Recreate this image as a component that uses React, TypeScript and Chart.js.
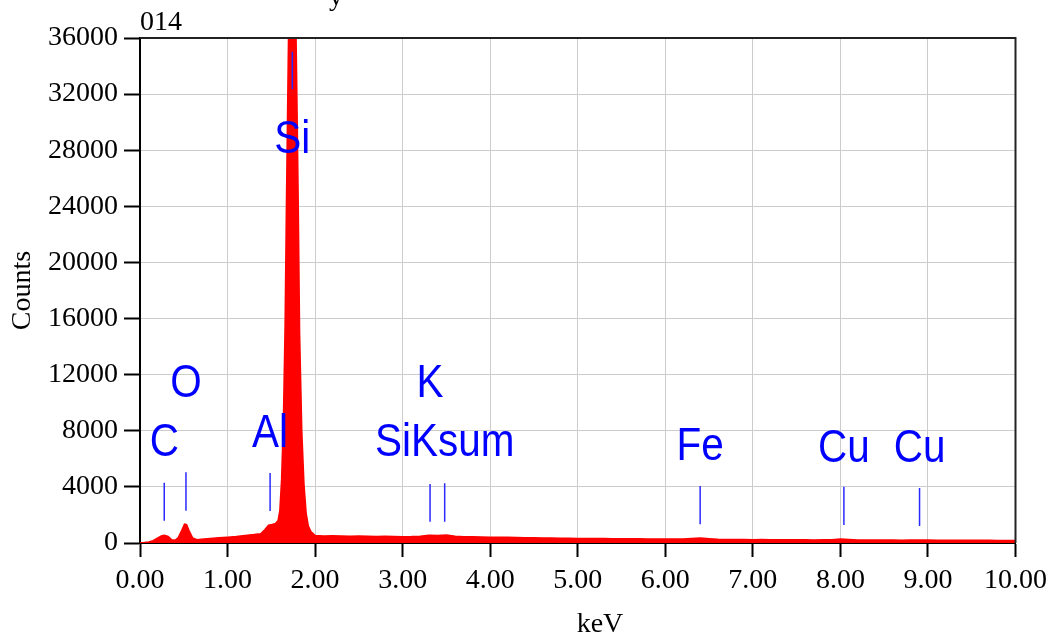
import React, { useEffect, useRef } from "react";
import { Chart, registerables } from "chart.js";

Chart.register(...registerables);

// Spectrum (keV, counts)
const energyKeV = [
  0.0, 0.05, 0.1, 0.15, 0.2, 0.25, 0.28, 0.32, 0.36, 0.4, 0.44, 0.48, 0.51, 0.53, 0.56, 0.6, 0.65, 0.7, 0.8, 0.9,
  1.0, 1.1, 1.2, 1.3, 1.38, 1.43, 1.47, 1.51, 1.55, 1.58, 1.6, 1.62, 1.64, 1.66, 1.675, 1.69, 1.7, 1.72, 1.74, 1.76,
  1.78, 1.79, 1.805, 1.82, 1.845, 1.87, 1.895, 1.92, 1.95,
  2.0, 2.1, 2.2, 2.3, 2.4, 2.5, 2.6, 2.7, 2.8, 2.9, 3.0, 3.1, 3.2, 3.3, 3.4, 3.5, 3.6, 3.7, 3.8, 3.9,
  4.0, 4.1, 4.2, 4.3, 4.4, 4.5, 4.6, 4.7, 4.8, 4.9, 5.0, 5.1, 5.2, 5.3, 5.4, 5.5, 5.6, 5.7, 5.8, 5.9,
  6.0, 6.1, 6.2, 6.3, 6.4, 6.5, 6.6, 6.7, 6.8, 6.9, 7.0, 7.1, 7.2, 7.3, 7.4, 7.5, 7.6, 7.7, 7.8, 7.9,
  8.0, 8.1, 8.2, 8.3, 8.4, 8.5, 8.6, 8.7, 8.8, 8.9, 9.0, 9.1, 9.2, 9.3, 9.4, 9.5, 9.6, 9.7, 9.8, 9.9, 10.0,
];
const counts = [
  0, 20, 60, 150, 330, 500, 540, 450, 220, 180, 380, 900, 1330, 1300, 850, 350, 220, 250, 300, 350,
  400, 450, 520, 580, 650, 950, 1250, 1300, 1380, 1600, 2300, 4500, 8500, 15500, 24000, 31500, 36500, 44000, 47000, 44000,
  36000, 31500, 24000, 15000, 8000, 4200, 2100, 1200, 800,
  520, 490, 500, 480, 470, 480, 460, 450, 455, 440, 430, 440, 470, 540, 520, 560, 470, 430, 420, 410,
  400, 390, 385, 370, 360, 355, 340, 335, 320, 315, 310, 305, 300, 295, 290, 285, 285, 280, 275, 270,
  270, 265, 270, 300, 330, 290, 250, 240, 235, 225, 220, 225, 215, 210, 215, 205, 210, 200, 205, 215,
  260, 230, 200, 195, 200, 190, 195, 185, 190, 200, 190, 185, 180, 180, 175, 175, 170, 170, 165, 165, 160,
];

// Element markers
const markerLabels = ["C", "O", "Al", "Si", "K", "SiKsum", "Fe", "Cu", "Cu"];
const markerEnergies = [0.277, 0.525, 1.486, 1.74, 3.313, 3.48, 6.398, 8.04, 8.904];
const markerLow = [1590, 2300, 2280, 32340, 1520, 1520, 1330, 1280, 1210];
const markerHigh = [4300, 5040, 4990, 35020, 4210, 4260, 4060, 4010, 3920];
const labelCounts = [6200, 10400, 6840, 27800, 10400, 6200, 5920, 5770, 5770];

// Axis ticks
const yTicks = [0, 4000, 8000, 12000, 16000, 20000, 24000, 28000, 32000, 36000];
const xTickLabels = ["0.00", "1.00", "2.00", "3.00", "4.00", "5.00", "6.00", "7.00", "8.00", "9.00", "10.00"];

const SERIF = "'Liberation Serif', 'Times New Roman', serif";
const SANS = "'Liberation Sans', Arial, sans-serif";

const overlay = {
  id: "overlay",
  afterDatasetsDraw(chart: any) {
    const { ctx, scales } = chart;
    ctx.save();
    ctx.fillStyle = "#0000ff";
    ctx.font = `46px ${SANS}`;
    ctx.textAlign = "center";
    ctx.textBaseline = "alphabetic";
    markerLabels.forEach((lab, i) => {
      const px = scales.x.getPixelForValue(markerEnergies[i]);
      const py = scales.y.getPixelForValue(labelCounts[i]);
      ctx.save();
      ctx.translate(px, py);
      ctx.scale(0.88, 1);
      ctx.fillText(lab, 0, 0);
      ctx.restore();
    });
    ctx.restore();
  },
  afterDraw(chart: any) {
    const { ctx, chartArea } = chart;
    const { left, right, top, bottom } = chartArea;
    ctx.save();
    ctx.strokeStyle = "#222";
    ctx.lineWidth = 2;
    ctx.beginPath();
    ctx.moveTo(left, top);
    ctx.lineTo(right, top);
    ctx.lineTo(right, bottom);
    ctx.stroke();

    ctx.fillStyle = "#000";
    ctx.font = `28px ${SERIF}`;
    ctx.textBaseline = "alphabetic";
    ctx.textAlign = "left";
    ctx.fillText("014", left, 30);
    ctx.textAlign = "center";
    ctx.fillText("y", 336, 5);
    ctx.fillText("keV", 600, 632);
    ctx.save();
    ctx.translate(30, (top + bottom) / 2);
    ctx.rotate(-Math.PI / 2);
    ctx.fillText("Counts", 0, 0);
    ctx.restore();
    ctx.restore();
  },
};

export default function App() {
  const ref = useRef<HTMLCanvasElement>(null);
  useEffect(() => {
    if (!ref.current) return;
    const markerSets = markerLabels.map((lab, i) => ({
      label: lab,
      data: [
        { x: markerEnergies[i], y: markerLow[i] },
        { x: markerEnergies[i], y: markerHigh[i] },
      ],
      borderColor: "#2a2aff",
      borderWidth: 1.5,
      pointRadius: 0,
      fill: false,
    }));
    const chart = new Chart(ref.current, {
      type: "line",
      data: {
        datasets: [
          ...markerSets,
          {
            label: "Spectrum",
            data: energyKeV.map((e, i) => ({ x: e, y: counts[i] })),
            borderColor: "#ff0000",
            backgroundColor: "#ff0000",
            borderWidth: 2,
            pointRadius: 0,
            tension: 0,
            fill: "origin",
          },
        ],
      },
      options: {
        responsive: false,
        animation: false,
        devicePixelRatio: 1,
        layout: { padding: { top: 38, right: 37, left: 0, bottom: 0 } },
        plugins: { legend: { display: false }, tooltip: { enabled: false }, title: { display: false } },
        scales: {
          x: {
            type: "linear",
            min: 0,
            max: 10,
            afterFit: (s: any) => {
              s.height = 92;
            },
            afterBuildTicks: (s: any) => {
              s.ticks = xTickLabels.map((_, i) => ({ value: i }));
            },
            ticks: {
              color: "#000",
              font: { family: SERIF, size: 28 },
              padding: 7,
              maxRotation: 0,
              autoSkip: false,
              callback: (v: any) => xTickLabels[Math.round(Number(v))] ?? "",
            },
            grid: { color: "#cccccc", lineWidth: 1, tickColor: "#000", tickLength: 14, tickWidth: 2 },
            border: { display: true, color: "#000", width: 2 },
          },
          y: {
            type: "linear",
            min: 0,
            max: 36000,
            afterFit: (s: any) => {
              s.width = 140;
            },
            afterBuildTicks: (s: any) => {
              s.ticks = yTicks.map((v) => ({ value: v }));
            },
            ticks: {
              color: "#000",
              font: { family: SERIF, size: 28 },
              padding: 6,
              autoSkip: false,
              callback: (v: any) => String(v),
            },
            grid: { color: "#cccccc", lineWidth: 1, tickColor: "#000", tickLength: 16, tickWidth: 2 },
            border: { display: true, color: "#000", width: 2 },
          },
        },
      },
      plugins: [overlay],
    });
    return () => chart.destroy();
  }, []);
  return (
    <canvas
      ref={ref}
      width={1054}
      height={635}
      style={{ position: "absolute", left: 0, top: 0, display: "block", width: 1054, height: 635 }}
    />
  );
}
